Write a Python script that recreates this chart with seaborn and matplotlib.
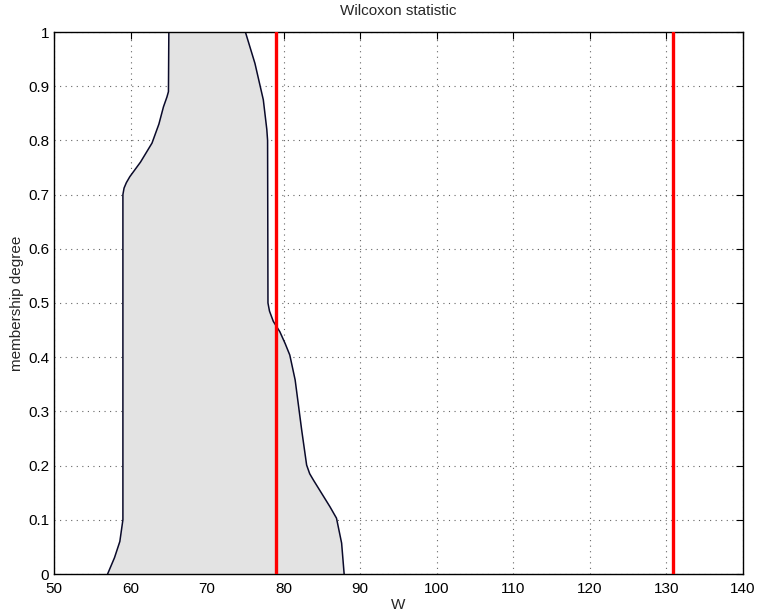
import matplotlib
matplotlib.use("Agg")
import matplotlib.pyplot as plt
import seaborn as sns
import numpy as np
import pandas as pd

# left boundary of the fuzzy set (membership level -> W)
left_mu = [0.0, 0.03, 0.06, 0.1, 0.4, 0.7, 0.712, 0.722, 0.733, 0.76, 0.795, 0.83, 0.862, 0.88, 0.89, 1.0]
left_w = [57.0, 57.9, 58.6, 59.0, 59.0, 59.0, 59.15, 59.45, 59.9, 61.3, 62.8, 63.7, 64.3, 64.75, 64.95, 65.0]
# right boundary of the fuzzy set (from top to bottom)
right_mu = [1.0, 0.942, 0.875, 0.82, 0.80, 0.5, 0.485, 0.466, 0.447, 0.425, 0.404, 0.358, 0.266, 0.201, 0.185, 0.173, 0.124, 0.103, 0.057, 0.0]
right_w = [75.0, 76.25, 77.34, 77.8, 77.9, 77.95, 78.15, 78.65, 79.5, 80.2, 80.8, 81.5, 82.35, 83.0, 83.4, 83.9, 86.05, 86.9, 87.57, 87.9]
# crisp test values (red lines)
red_lines = [79.0, 130.8]

xticks = list(range(50, 141, 10))
yticks = [round(v, 1) for v in np.arange(0, 1.01, 0.1)]

sns.set_style("white")
plt.rcParams['font.family'] = ['Liberation Sans', 'DejaVu Sans']

fig = plt.figure(figsize=(7.58, 6.15), dpi=100)
ax = fig.add_axes([54/758, 1 - 574/615, 689/758, 542/615])

poly = pd.DataFrame({
    "W": left_w + right_w,
    "mu": left_mu + right_mu,
})
ax.fill(poly["W"], poly["mu"], color="#e3e3e3", zorder=1, linewidth=0)
sns.lineplot(data=poly, x="W", y="mu", sort=False, estimator=None,
             color="#0a0a2a", linewidth=1.1, ax=ax, zorder=2)

for r in red_lines:
    ax.axvline(r, color="#ff0000", linewidth=2.4, zorder=3)

ax.set_xlim(50, 140)
ax.set_ylim(0, 1)
ax.set_xticks(xticks)
ax.set_yticks(yticks)
ax.set_yticklabels(["0" if v == 0 else ("1" if v == 1 else f"{v:g}") for v in yticks])
ax.grid(True, linestyle=(0, (1, 4)), color="#666666", linewidth=0.8)
ax.set_axisbelow(True)
ax.tick_params(direction="in", top=True, right=True, length=5, width=0.8,
               labelsize=11, colors="black")
ax.tick_params(axis="y", pad=3.5)
ax.tick_params(axis="x", pad=6)
for s in ax.spines.values():
    s.set_color("black")
    s.set_linewidth(1.0)

ax.set_title("Wilcoxon statistic", fontsize=11, pad=12)
ax.set_xlabel("W", fontsize=11, labelpad=1)
ax.set_ylabel("membership degree", fontsize=11, labelpad=3)

fig.savefig("out.png", dpi=100)
